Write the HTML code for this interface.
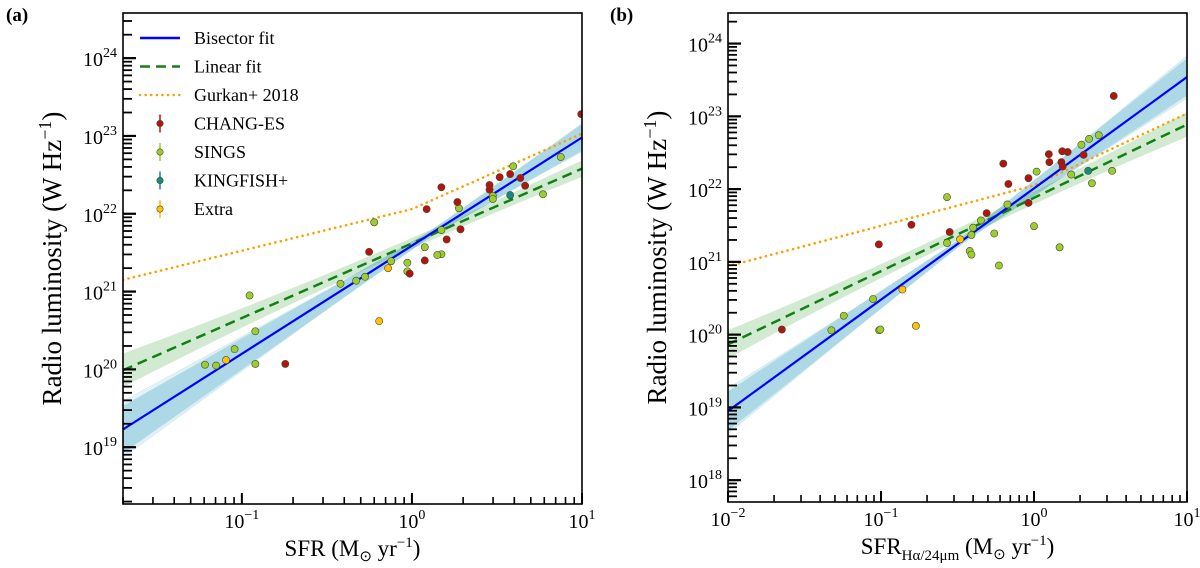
<!DOCTYPE html>
<html><head><meta charset="utf-8"><style>
html,body{margin:0;padding:0;background:#fff;}
svg{display:block;font-family:"Liberation Serif",serif;}
</style></head><body>
<svg id="fig" width="1200" height="568" viewBox="0 0 1200 568" xmlns="http://www.w3.org/2000/svg"></svg>
<script>
// ---- Panel (a) data ----
const aChangX=[9.9,1.22,1.49,1.85,1.93,1.6,1.19,0.97,0.56,0.18,2.86,2.86,3.28,3.78,4.34,4.63];
const aChangY=[23.28,22.06,22.34,22.15,21.80,21.67,21.40,21.23,21.51,20.07,22.37,22.31,22.47,22.51,22.46,22.36];
const aSingsX=[7.5,5.9,3.94,2.99,2.99,1.89,1.49,1.49,1.41,1.19,0.94,0.94,0.755,0.53,0.47,0.38,0.6,0.111,0.12,0.12,0.0906,0.0705,0.0607];
const aSingsY=[22.73,22.25,22.61,22.23,22.19,22.07,21.79,21.48,21.47,21.57,21.37,21.26,21.39,21.19,21.14,21.10,21.89,20.95,20.49,20.07,20.26,20.05,20.06];
const aKingX=[3.78]; const aKingY=[22.24];
const aExtraX=[0.724,0.642,0.0807]; const aExtraY=[21.30,20.62,20.12];
const aBis=[1.39,21.59]; const aLin=[0.96,21.62]; const aGurk=[0.535,0.97,22.06];
// ---- Panel (b) data ----
const bChangX=[3.32,1.25,1.26,1.53,1.66,2.11,1.51,1.54,0.63,0.68,0.92,0.92,0.49,0.281,0.158,0.0968,0.0225];
const bChangY=[23.28,22.48,22.37,22.52,22.51,22.47,22.37,22.31,22.35,22.07,22.15,21.81,21.67,21.41,21.51,21.24,20.07];
const bSingsX=[2.65,2.29,2.04,3.24,2.39,1.75,1.04,1.0,1.47,0.67,0.55,0.59,0.45,0.40,0.39,0.38,0.39,0.27,0.27,0.0887,0.0571,0.0474,0.0973,0.099];
const bSingsY=[22.74,22.69,22.61,22.25,22.08,22.20,22.24,21.49,21.20,21.79,21.39,20.95,21.57,21.47,21.37,21.15,21.10,21.89,21.26,20.49,20.26,20.06,20.06,20.07];
const bKingX=[2.26]; const bKingY=[22.25];
const bExtraX=[0.329,0.138,0.169]; const bExtraY=[21.31,20.62,20.12];
const bBis=[1.53,22.01]; const bLin=[1.007,21.88]; const bGurk=[0.555,0.99,22.05];

const NS="http://www.w3.org/2000/svg";
const svg=document.getElementById('fig');
function mk(tag,attrs,parent){const e=document.createElementNS(NS,tag);for(const k in attrs)e.setAttribute(k,attrs[k]);(parent||svg).appendChild(e);return e;}

function panel(P){
  const g=mk('g',{});
  
  
  const X=lx=>P.L+(lx-P.x0)/(P.x1-P.x0)*(P.R-P.L);
  const Y=ly=>P.B-(ly-P.y0)/(P.y1-P.y0)*(P.B-P.T);
  const clipId='clip'+P.name;
  const cp=mk('clipPath',{id:clipId},g);mk('rect',{x:P.L,y:P.T,width:P.R-P.L,height:P.B-P.T},cp);
  const pg=mk('g',{'clip-path':'url(#'+clipId+')'},g);
  const bandB=mk('g',{},pg);
  
  
  for(let i=-15;i<=15;i++){
    const s=P.bis[0]+i*P.bd/15, piv=P.piv, yp=P.bis[1]+P.bis[0]*piv;
    const y0=yp+s*(P.x0-piv), y1=yp+s*(P.x1-piv);
    mk('line',{x1:X(P.x0),y1:Y(y0),x2:X(P.x1),y2:Y(y1),stroke:'#add8e6','stroke-width':Math.abs(i)>11?1:5,opacity:Math.abs(i)>11?0.5:1},bandB);
  }
  let up=[],lo=[];
  for(let k=0;k<=40;k++){const lx=P.x0+(P.x1-P.x0)*k/40;const w=P.gw[0]+P.gw[1]*(lx-P.gw[2])*(lx-P.gw[2]);const yy=P.lin[1]+P.lin[0]*lx;up.push(X(lx)+','+Y(yy+w));lo.unshift(X(lx)+','+Y(yy-w));}
  const gb=mk('polygon',{points:up.concat(lo).join(' '),fill:'#2ca02c','fill-opacity':0.22},pg);
  
  
  const gk=P.gurk; const gy=lx=>gk[2]+(lx<0?gk[0]:gk[1])*lx;
  const gl=mk('polyline',{points:[P.x0,0,P.x1].map(lx=>X(lx)+','+Y(gy(lx))).join(' '),fill:'none',stroke:'#ff9f00','stroke-width':2.6,'stroke-dasharray':'0.1 5.5','stroke-linecap':'round'},pg);
  
  
  const ll=mk('line',{x1:X(P.x0),y1:Y(P.lin[1]+P.lin[0]*P.x0),x2:X(P.x1),y2:Y(P.lin[1]+P.lin[0]*P.x1),stroke:'#138013','stroke-width':2.5,'stroke-dasharray':'10 6'},pg);
  
  
  const bl=mk('line',{x1:X(P.x0),y1:Y(P.bis[1]+P.bis[0]*P.x0),x2:X(P.x1),y2:Y(P.bis[1]+P.bis[0]*P.x1),stroke:'#0000ff','stroke-width':2.2},pg);
  
  
  const sets=[[P.sx,P.sy,'#9acd32','sings-point'],[P.cx,P.cy,'#b01414','chang-es-point'],[P.kx,P.ky,'#128a8a','kingfish-point'],[P.ex,P.ey,'#ffc107','extra-point']];
  for(const [xs,ys,col,nm] of sets){for(let i=0;i<xs.length;i++){
    const c=mk('circle',{cx:X(Math.log10(xs[i])),cy:Y(ys[i]),r:3.6,fill:col,stroke:'#4a4a20','stroke-width':0.6},pg);
    
    
  }}
  const fr=mk('rect',{x:P.L,y:P.T,width:P.R-P.L,height:P.B-P.T,fill:'none',stroke:'#000','stroke-width':1.6},g);
  
  
  for(let d=Math.floor(P.x0);d<=P.x1;d++){for(let m=1;m<10;m++){const lx=d+Math.log10(m);if(lx<P.x0-1e-6||lx>P.x1+1e-6)continue;const len=m==1?11:7;
    const t=mk('line',{x1:X(lx),y1:P.B,x2:X(lx),y2:P.B-len,stroke:'#000','stroke-width':m==1?2:1.6},g);
    
    
    if(m==1){const tx=mk('text',{x:X(lx),y:P.B+24,'text-anchor':'middle','font-size':20},g);tx.innerHTML='10<tspan dy="-9" font-size="14">'+(d<0?'\u2212'+(-d):d)+'</tspan>';
      
      }
  }}
  for(let d=Math.floor(P.y0);d<=P.y1;d++){for(let m=1;m<10;m++){const ly=d+Math.log10(m);if(ly<P.y0||ly>P.y1)continue;const len=m==1?13:9;
    const t=mk('line',{x1:P.L,y1:Y(ly),x2:P.L+len,y2:Y(ly),stroke:'#000','stroke-width':m==1?2.2:1.8},g);
    
    
    if(m==1){const tx=mk('text',{x:P.L-6,y:Y(ly)+8,'text-anchor':'end','font-size':20},g);tx.innerHTML='10<tspan dy="-9" font-size="14">'+d+'</tspan>';
      
      }
  }}
  const yl=mk('text',{x:0,y:0,transform:'translate('+(P.L-62)+','+((P.T+P.B)/2)+') rotate(-90)','text-anchor':'middle','font-size':27},g);
  yl.innerHTML='Radio luminosity (W Hz<tspan dy="-10" font-size="18">\u22121</tspan><tspan dy="10">)</tspan>';
  
  
  const xl=mk('text',{x:(P.L+P.R)/2,y:P.B+52,'text-anchor':'middle','font-size':23},g);
  xl.innerHTML=P.xlab;
  
  
  const pl=mk('text',{x:P.lab[0],y:P.lab[1],'font-size':19,'font-weight':'bold'},g);
  pl.textContent=P.lab[2];
  
  
}

panel({name:'panel-a',L:123,R:582,T:13,B:504,x0:Math.log10(0.02),x1:1,y0:18.27,y1:24.58,
  bis:aBis,lin:aLin,gurk:aGurk,bd:0.2,piv:0.1,gw:[0.07,0.045,0.1],
  sx:aSingsX,sy:aSingsY,cx:aChangX,cy:aChangY,kx:aKingX,ky:aKingY,ex:aExtraX,ey:aExtraY,
  xlab:'SFR (M<tspan dy="5" font-size="15">\u2299</tspan><tspan dy="-5"> yr</tspan><tspan dy="-9" font-size="15">\u22121</tspan><tspan dy="9">)</tspan>',lab:[6,21,'(a)']});
panel({name:'panel-b',L:728,R:1187,T:13,B:502,x0:-2,x1:1,y0:17.7,y1:24.42,
  bis:bBis,lin:bLin,gurk:bGurk,bd:0.2,piv:-0.45,gw:[0.08,0.045,-0.4],
  sx:bSingsX,sy:bSingsY,cx:bChangX,cy:bChangY,kx:bKingX,ky:bKingY,ex:bExtraX,ey:bExtraY,
  xlab:'SFR<tspan dy="6" font-size="15">H\u03b1/24\u03bcm</tspan><tspan dy="-6"> (M</tspan><tspan dy="5" font-size="15">\u2299</tspan><tspan dy="-5"> yr</tspan><tspan dy="-9" font-size="15">\u22121</tspan><tspan dy="9">)</tspan>',lab:[610,21,'(b)']});

const lg=mk('g',{});


const legItems=[['line','#0000ff','none','Bisector fit'],['line','#138013','10 6','Linear fit'],['line','#ff9f00','0.1 5.5','Gurkan+ 2018'],['pt','#b01414','','CHANG-ES'],['pt','#9acd32','','SINGS'],['pt','#128a8a','','KINGFISH+'],['pt','#ffc107','','Extra']];
legItems.forEach((it,i)=>{
  const y=38+i*28.5;
  const e=mk('g',{},lg);
  
  
  if(it[0]=='line'){mk('line',{x1:140,y1:y,x2:180,y2:y,stroke:it[1],'stroke-width':2.5,'stroke-dasharray':it[2],'stroke-linecap':it[2]=='0.1 5.5'?'round':'butt'},e);}
  else{mk('line',{x1:160,y1:y-9,x2:160,y2:y+9,stroke:it[1],'stroke-width':1.5},e);mk('circle',{cx:160,cy:y,r:3.2,fill:it[1],stroke:'#4a4a20','stroke-width':0.6},e);}
  const t=mk('text',{x:194,y:y+6,'font-size':18},e);t.textContent=it[3];
});
</script>
</body></html>
